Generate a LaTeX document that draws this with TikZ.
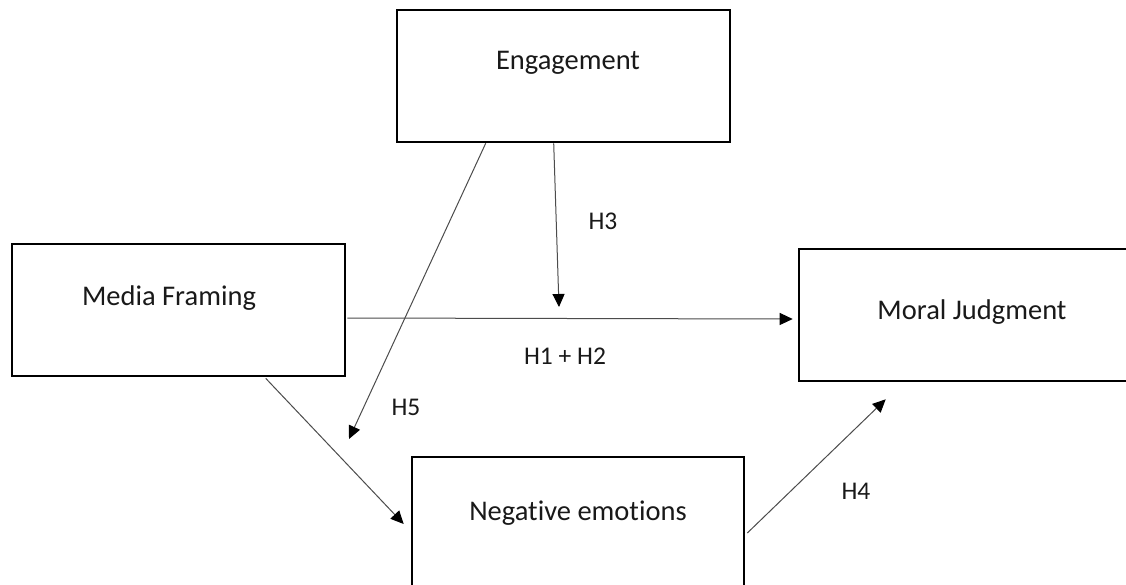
\documentclass[tikz,border=0pt]{standalone}
\usepackage{fontspec}
\setmainfont[Ligatures=NoCommon]{Carlito}
\usetikzlibrary{arrows.meta,calc}
\tikzset{
  box/.style={draw=black, line width=2.6pt, rectangle, inner sep=0pt},
  boxtext/.style={font=\fontsize{28.5}{32}\selectfont, text=black!90, inner sep=0pt},
  hlabel/.style={font=\fontsize{25.5}{29}\selectfont, text=black!90, inner sep=0pt},
  conn/.style={draw=black!70, line width=1pt, -{Triangle[length=13pt,width=12pt,fill=black,color=black]}}
}
\begin{document}
\begin{tikzpicture}[x=1pt,y=-1pt]
\clip (0,0) rectangle (1126,584);
\fill[white] (0,0) rectangle (1126,584);
% boxes
\node[box, minimum width=333pt, minimum height=132pt] (eng) at (563.5,76) {};
\node[box, minimum width=333pt, minimum height=132pt] (mf) at (178.5,310) {};
\node[box, minimum width=333pt, minimum height=132pt] (mj) at (965.5,315) {};
\node[box, minimum width=332pt, minimum height=132pt] (neg) at (578,523) {};
% box texts
\node[boxtext] (engT) at (568,63) {Engagement};
\node[boxtext] (mfT) at (169,298) {Media Framing};
\node[boxtext] (mjT) at (972,312) {Moral Judgment};
\node[boxtext] (negT) at (578,513) {Negative emotions};
% free ends
\coordinate (h5tip) at (349,439);
\coordinate (h3tip) at (559,307);
% connectors
\draw[conn] ($(eng.south west)+(90,0)$) -- (h5tip);
\draw[conn] ($(eng.south west)+(158,0)$) -- (h3tip);
\draw[conn] ($(mf.east)+(1,8)$) -- ($(mj.west)+(-5,4)$);
\draw[conn] ($(mf.south west)+(255,1)$) -- ($(neg.west)+(-7,1)$);
\draw[conn] ($(neg.east)+(2,10)$) -- ($(mj.south west)+(88,17)$);
% labels
\node[hlabel] (h3) at (603,221) {H3};
\node[hlabel] (h12) at (565,356) {H1 + H2};
\node[hlabel] (h5) at (406,407) {H5};
\node[hlabel] (h4) at (856,491) {H4};
\end{tikzpicture}
\end{document}
